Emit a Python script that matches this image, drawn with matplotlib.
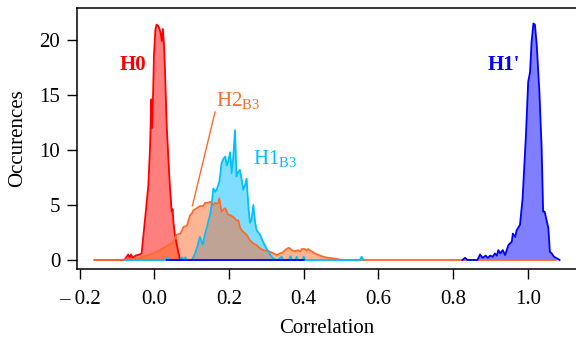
import numpy as np
import matplotlib
matplotlib.use('Agg')
import matplotlib.pyplot as plt

plt.rcParams['font.family'] = ['Liberation Serif', 'DejaVu Serif']
plt.rcParams['mathtext.fontset'] = 'custom'
plt.rcParams['mathtext.rm'] = 'Liberation Serif'

# H0 distribution (red)
h0_x = [-0.16, -0.08, -0.074, -0.07, -0.066, -0.062, -0.058, -0.05, -0.04, -0.034,
        -0.029, -0.022, -0.016, -0.0115, -0.008, -0.006, -0.003, -0.001, 0.003, 0.006,
        0.01, 0.014, 0.017, 0.02, 0.023, 0.026, 0.029, 0.033, 0.0375, 0.042,
        0.0466, 0.049, 0.051, 0.055, 0.06, 0.064, 0.069]
h0_y = [0, 0, 0.3, 0.5, 0.2, 0.5, 0.2, 0.4, 0.5, 0.6,
        2.3, 4.7, 6.8, 10.2, 14.6, 12.0, 15.5, 18.6, 21.0, 21.4,
        21.3, 21.0, 20.6, 19.9, 21.0, 19.5, 16.8, 12.3, 9.3, 6.5,
        4.4, 4.6, 3.5, 2.3, 1.4, 0.75, 0]

# H1_B3 distribution (light blue)
h1b3_x = [-0.078, 0.03, 0.036, 0.042, 0.07, 0.074, 0.078, 0.083, 0.088, 0.1,
          0.105, 0.109, 0.115, 0.122, 0.13, 0.136, 0.141, 0.145, 0.15, 0.154,
          0.158, 0.163, 0.167, 0.171, 0.174, 0.177, 0.18, 0.185, 0.19, 0.194,
          0.198, 0.203, 0.207, 0.211, 0.216, 0.22, 0.225, 0.229, 0.234, 0.238,
          0.243, 0.247, 0.252, 0.256, 0.26, 0.265, 0.27, 0.274, 0.283, 0.292,
          0.301, 0.31, 0.319, 0.33, 0.341, 0.345, 0.361, 0.365, 0.369, 0.378,
          0.381, 0.385, 0.397, 0.4, 0.404, 0.55, 0.555, 0.56]
h1b3_y = [0, 0, 0.25, 0, 0, 0.25, 0, 0.25, 0, 0,
          0.3, 0.6, 1.2, 2.1, 1.4, 2.4, 3.0, 3.6, 4.2, 5.2,
          6.5, 6.2, 6.4, 6.8, 7.1, 7.9, 8.8, 9.2, 9.4, 8.6,
          9.0, 9.8, 7.9, 9.2, 11.8, 7.6, 8.0, 8.2, 7.3, 6.4,
          6.8, 7.4, 4.8, 3.4, 3.6, 5.0, 3.4, 2.7, 2.3, 1.6,
          1.0, 0.5, 0.1, 0, 0.3, 0, 0, 0.35, 0, 0,
          0.3, 0, 0, 0.3, 0, 0, 0.3, 0]

# H2_B3 distribution (orange)
h2_x = [-0.16, -0.1, -0.07, -0.04, -0.03, -0.01, 0.015, 0.03, 0.05, 0.06,
        0.07, 0.078, 0.087, 0.096, 0.1, 0.104, 0.113, 0.122, 0.131, 0.136,
        0.145, 0.149, 0.158, 0.162, 0.167, 0.171, 0.174, 0.18, 0.185, 0.19,
        0.194, 0.198, 0.203, 0.207, 0.212, 0.22, 0.225, 0.229, 0.234, 0.24,
        0.247, 0.256, 0.265, 0.274, 0.283, 0.292, 0.301, 0.31, 0.319, 0.328,
        0.336, 0.345, 0.35, 0.359, 0.363, 0.37, 0.377, 0.385, 0.39, 0.395,
        0.403, 0.408, 0.412, 0.42, 0.43, 0.44, 0.452, 0.465, 0.479, 0.488,
        0.5, 1.075]
h2_y = [0, 0, 0.05, 0.15, 0.3, 0.5, 0.9, 1.2, 1.6, 2.3,
        2.4, 3.0, 3.1, 4.1, 4.2, 4.5, 4.7, 4.9, 4.9, 5.2,
        5.2, 5.3, 5.0, 5.2, 5.1, 5.2, 5.6, 4.4, 4.6, 4.7,
        4.4, 4.1, 4.1, 4.0, 3.9, 3.6, 3.6, 3.0, 2.7, 2.5,
        2.3, 1.8, 1.5, 1.36, 1.06, 0.9, 0.85, 0.75, 0.6, 0.45,
        0.6, 0.7, 0.9, 1.1, 1.06, 0.85, 0.8, 0.9, 0.75, 1.0,
        1.0, 0.85, 1.0, 0.8, 0.6, 0.45, 0.3, 0.2, 0.15, 0.1,
        0, 0]

# H1' distribution (blue)
h1p_x = [0.033, 0.4, 0.41, 0.825, 0.832, 0.838, 0.865, 0.872, 0.879, 0.887,
         0.893, 0.899, 0.906, 0.912, 0.917, 0.921, 0.926, 0.933, 0.939, 0.948,
         0.957, 0.96, 0.966, 0.97, 0.979, 0.986, 0.995, 1.001, 1.006, 1.01,
         1.015, 1.019, 1.024, 1.031, 1.037, 1.041, 1.045, 1.055, 1.059, 1.064,
         1.07, 1.078, 1.085]
h1p_y = [0, 0, np.nan, 0, 0.2, 0, 0, 0.5, 0.2, 0.4,
         0.2, 0.4, 0.3, 0.6, 0.4, 0.9, 0.6, 0.9, 0.45, 1.36,
         1.67, 2.4, 2.1, 2.7, 3.2, 5.6, 11.4, 16.2, 17.1, 19.8,
         21.5, 21.4, 19.5, 15.3, 10.2, 4.4, 4.4, 2.9, 0.75, 0.6,
         0.3, 0.15, 0]

xticks = [-0.2, 0.0, 0.2, 0.4, 0.6, 0.8, 1.0]
xtick_labels = ['\u2013 0.2', '0.0', '0.2', '0.4', '0.6', '0.8', '1.0']
yticks = [0, 5, 10, 15, 20]

c_red = '#FF0000'
c_cyan = '#00BFFF'
c_orange = '#FF6A2A'
c_blue = '#0000FF'
fs = 15

fig = plt.figure(figsize=(5.76, 3.4), dpi=100)
ax = fig.add_axes([0.1337, 0.2088, 0.8663, 0.7677])

ax.fill_between(h0_x, h0_y, color=c_red, alpha=0.5, lw=0, zorder=1)
ax.fill_between(h1b3_x, h1b3_y, color=c_cyan, alpha=0.5, lw=0, zorder=2)
ax.fill_between(h2_x, h2_y, color=c_orange, alpha=0.5, lw=0, zorder=3)
ax.fill_between(h1p_x, h1p_y, color=c_blue, alpha=0.5, lw=0, zorder=3)

ax.plot(h0_x, h0_y, color=c_red, lw=1.3, zorder=4)
ax.plot(h2_x, h2_y, color=c_orange, lw=1.3, zorder=5)
ax.plot(h1b3_x, h1b3_y, color=c_cyan, lw=1.3, zorder=6)
ax.plot(h1p_x, h1p_y, color=c_blue, lw=1.3, zorder=7)

# labels
ax.text(-0.058, 17.7, 'H0', color=c_red, fontsize=fs, fontweight='bold',
        ha='center', va='center')
ax.text(0.935, 17.7, "H1'", color=c_blue, fontsize=fs, fontweight='bold',
        ha='center', va='center')
ax.text(0.166, 14.4, r'H2$_{\mathrm{B3}}$', color=c_orange, fontsize=fs,
        ha='left', va='center')
ax.text(0.265, 9.2, r'H1$_{\mathrm{B3}}$', color=c_cyan, fontsize=fs,
        ha='left', va='center')
ax.plot([0.1625, 0.102], [13.45, 4.94], color=c_orange, lw=1.0, zorder=5)

ax.set_xlim(-0.207, 1.129)
ax.set_ylim(-0.818, 22.91)
ax.set_xticks(xticks)
ax.set_xticklabels(xtick_labels)
ax.set_yticks(yticks)
ax.tick_params(axis='both', labelsize=fs, direction='out', length=7, width=1.0)
ax.tick_params(axis='x', pad=8)
ax.tick_params(axis='y', pad=5)
ax.spines['right'].set_visible(False)
for s in ['left', 'top', 'bottom']:
    ax.spines[s].set_linewidth(1.1)

ax.set_xlabel('Correlation', fontsize=fs, labelpad=7)
ax.set_ylabel('Occurences', fontsize=fs, labelpad=9)

fig.savefig('out.png', dpi=100)
